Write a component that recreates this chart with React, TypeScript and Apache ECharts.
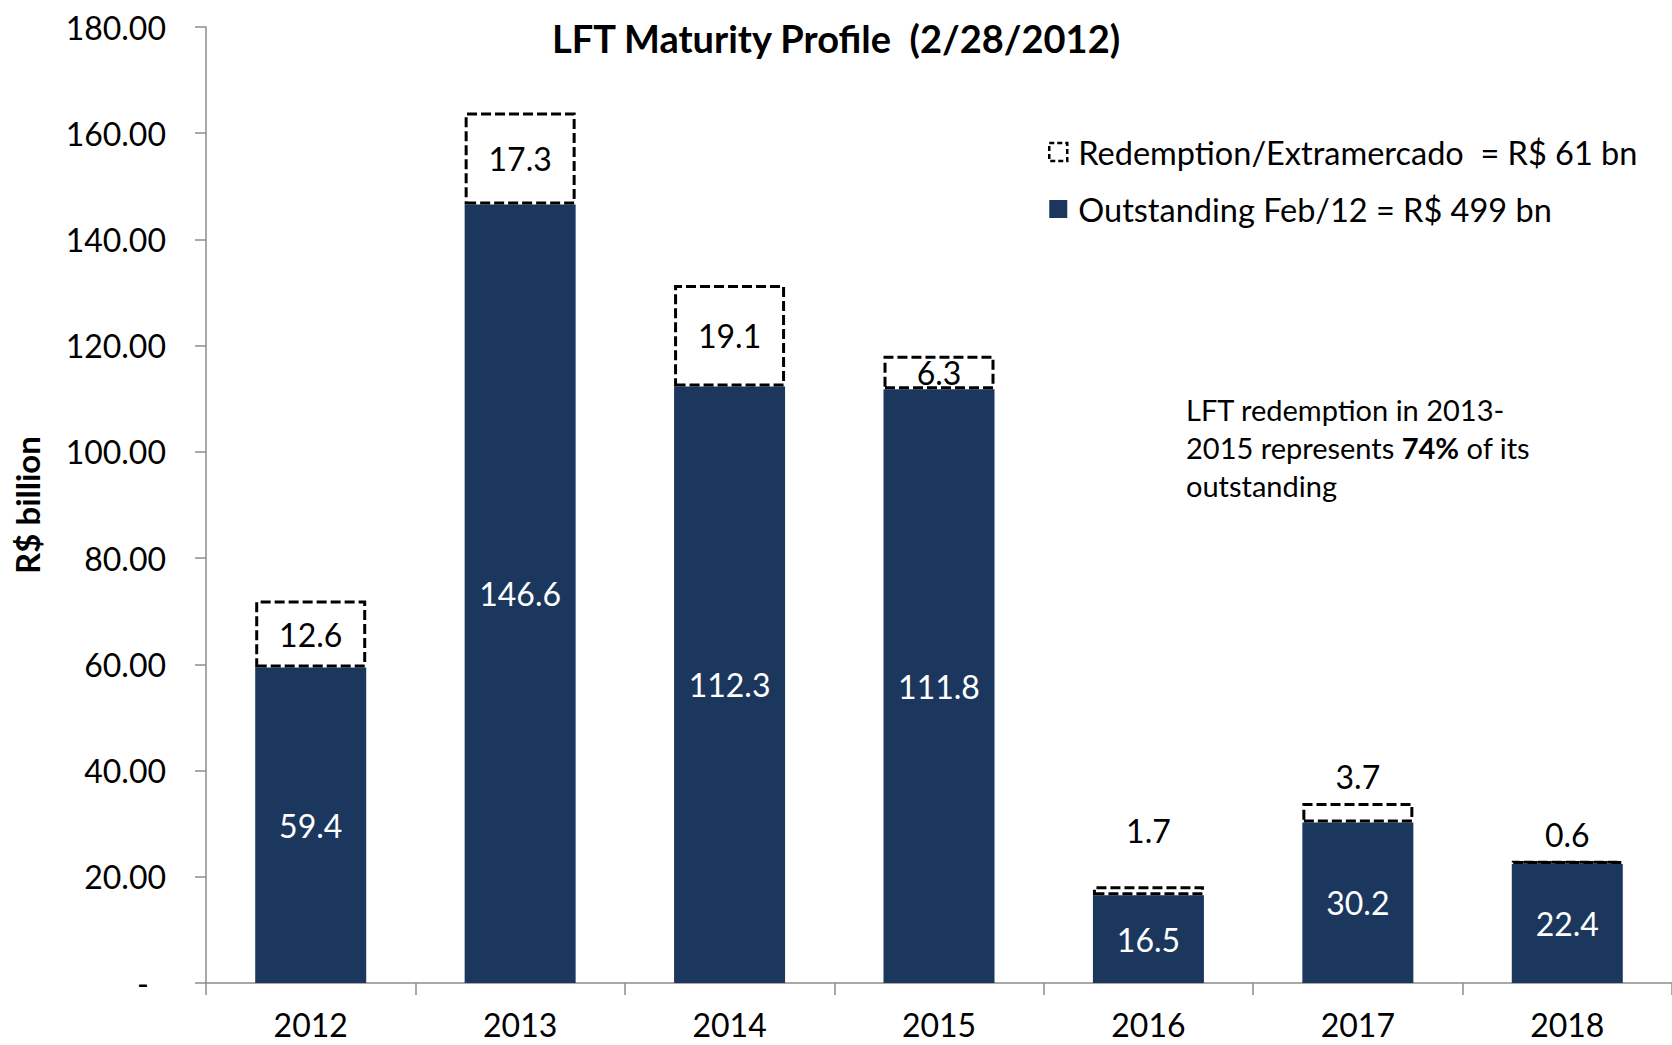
import React, { useEffect, useRef } from "react";
import * as echarts from "echarts";

const categories = ["2012", "2013", "2014", "2015", "2016", "2017", "2018"];
const outstanding = [59.4, 146.6, 112.3, 111.8, 16.5, 30.2, 22.4];
const redemption = [12.6, 17.3, 19.1, 6.3, 1.7, 3.7, 0.6];
const yTicks = { min: 0, max: 180, interval: 20 };
const seriesNames = ["Redemption/Extramercado  = R$ 61 bn", "Outstanding Feb/12 = R$ 499 bn"];
const titleText = "LFT Maturity Profile  (2/28/2012)";
const yAxisName = "R$ billion";
const noteText = "LFT redemption in 2013-\n2015 represents {b|74%} of its\noutstanding";

const NAVY = "#1B375E";
const FONT = "Lato";

export default function App() {
  const ref = useRef<HTMLDivElement>(null);
  useEffect(() => {
    const chart = echarts.init(ref.current!, null, { renderer: "svg" });
    const redemptionData = redemption.map((v, i) => {
      const above = i >= 4;
      return {
        value: v,
        label: above
          ? { position: "top", distance: i === 4 ? 40 : 10 }
          : { position: "inside" },
      };
    });
    chart.setOption({
      animation: false,
      backgroundColor: "#ffffff",
      textStyle: { fontFamily: FONT },
      title: {
        text: titleText,
        left: "center",
        top: 14,
        textStyle: { fontFamily: FONT, fontSize: 38, fontWeight: "bold", color: "#000" },
      },
      legend: {
        orient: "vertical",
        left: 1043,
        top: 129,
        itemWidth: 18,
        itemHeight: 18,
        itemGap: 21,
        icon: "rect",
        textStyle: { fontFamily: FONT, fontSize: 32.5, color: "#000", lineHeight: 36, padding: [0, 0, 0, 6] },
        data: [
          {
            name: seriesNames[0],
            itemStyle: { color: "#ffffff", borderColor: "#000", borderWidth: 2.5, borderType: [5, 3] },
          },
          { name: seriesNames[1], itemStyle: { color: NAVY } },
        ],
      },
      grid: { left: 206, right: 0, top: 27, bottom: 62, containLabel: false },
      xAxis: {
        type: "category",
        data: categories,
        axisLine: { show: true, lineStyle: { color: "#8c8c8c", width: 1.5 } },
        axisTick: { show: true, length: 12, lineStyle: { color: "#8c8c8c", width: 1.5 } },
        axisLabel: { fontFamily: FONT, fontSize: 32, lineHeight: 32, color: "#000", margin: 25 },
      },
      yAxis: {
        type: "value",
        min: yTicks.min,
        max: yTicks.max,
        interval: yTicks.interval,
        name: yAxisName,
        nameLocation: "middle",
        nameGap: 163,
        nameTextStyle: { fontFamily: FONT, fontSize: 33, fontWeight: "bold", color: "#000" },
        splitLine: { show: false },
        axisLine: { show: true, lineStyle: { color: "#8c8c8c", width: 1.5 } },
        axisTick: { show: true, length: 11, lineStyle: { color: "#8c8c8c", width: 1.5 } },
        axisLabel: {
          fontFamily: FONT,
          fontSize: 32,
          color: "#000",
          margin: 40,
          formatter: (v: number) => (v === 0 ? "{d|-}" : v.toFixed(2)),
          rich: { d: { fontFamily: FONT, fontSize: 32, color: "#000", padding: [0, 17, 0, 0] } },
        },
      },
      series: [
        {
          name: seriesNames[1],
          type: "bar",
          stack: "total",
          barWidth: 111,
          data: outstanding,
          itemStyle: { color: NAVY },
          label: {
            show: true,
            position: "inside",
            color: "#ffffff",
            fontFamily: FONT,
            fontSize: 32,
            formatter: (p: any) => Number(p.value).toFixed(1),
          },
        },
        {
          name: seriesNames[0],
          type: "bar",
          stack: "total",
          barWidth: 111,
          data: redemptionData,
          itemStyle: { color: "#ffffff", borderColor: "#000", borderWidth: 3, borderType: [10, 4] },
          label: {
            show: true,
            color: "#000",
            fontFamily: FONT,
            fontSize: 32,
            formatter: (p: any) => Number(p.value).toFixed(1),
          },
        },
      ],
      graphic: [
        {
          type: "text",
          left: 1186,
          top: 390,
          style: {
            text: noteText,
            fontFamily: FONT,
            fontSize: 29,
            lineHeight: 38,
            fill: "#000",
            rich: {
              b: { fontFamily: FONT, fontSize: 29, fontWeight: "bold", lineHeight: 38, fill: "#000" },
            },
          },
        },
      ],
    });
    return () => chart.dispose();
  }, []);
  return (
    <div
      ref={ref}
      style={{ position: "absolute", left: 0, top: 0, width: 1672, height: 1045, background: "#fff" }}
    />
  );
}
